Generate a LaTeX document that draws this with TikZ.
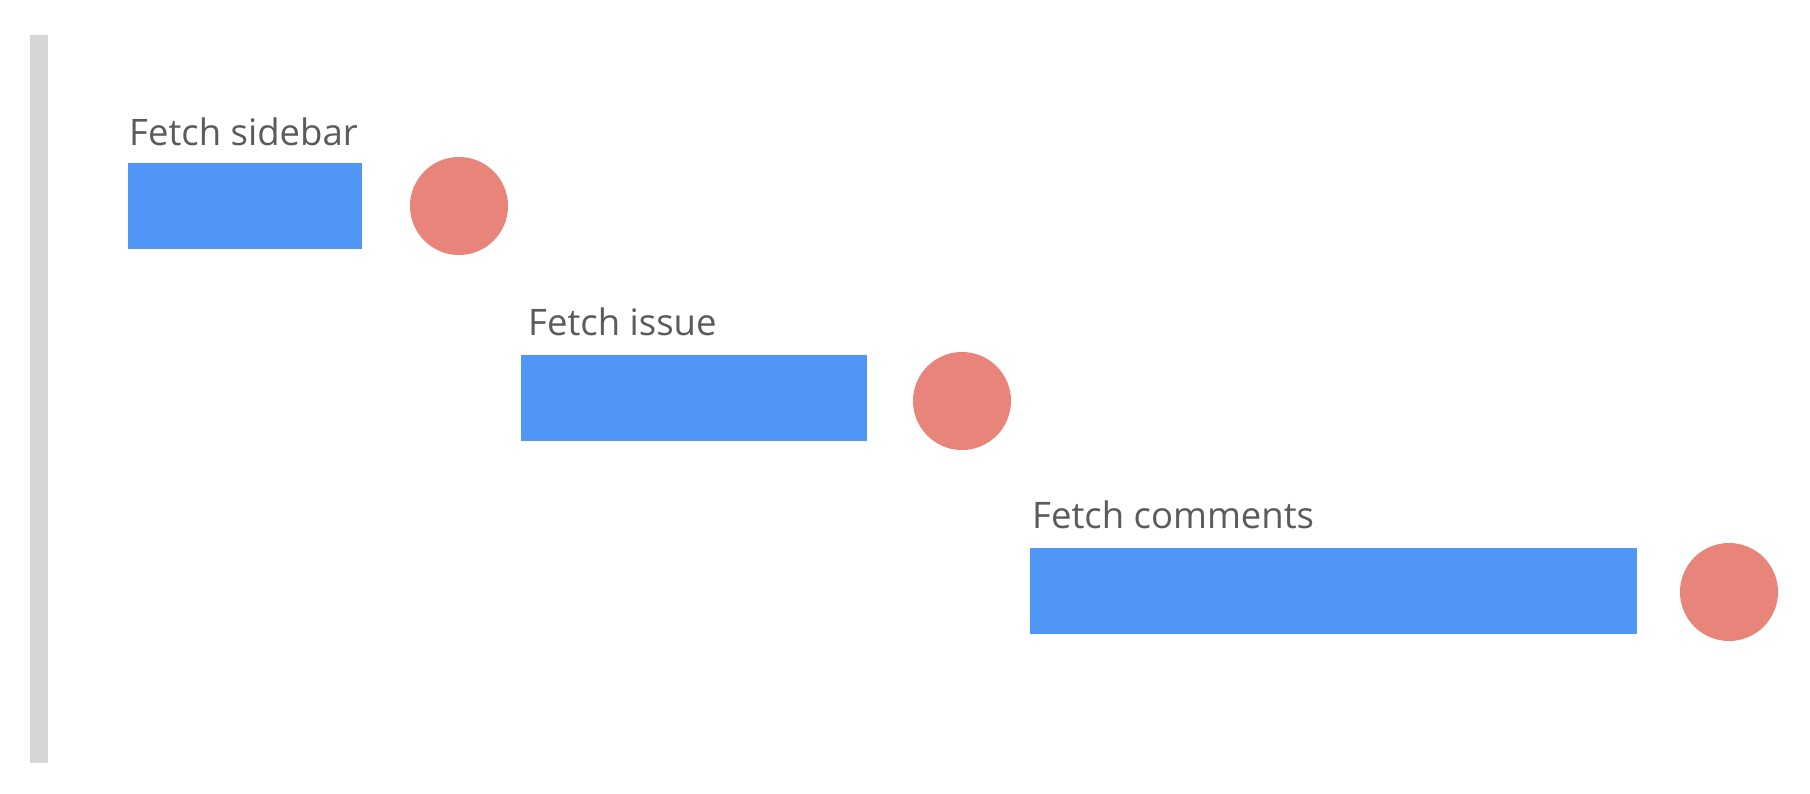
\documentclass[tikz,border=0pt]{standalone}
\usepackage{fontspec}
\setmainfont{Open Sans}
\definecolor{barblue}{RGB}{80,150,247}
\definecolor{dotred}{RGB}{233,132,123}
\definecolor{railgray}{RGB}{214,214,214}
\definecolor{labelgray}{RGB}{91,91,91}
\begin{document}
\begin{tikzpicture}[x=1pt,y=-1pt,
  taskbar/.style={fill=barblue, draw=none, inner sep=0pt, anchor=north west, minimum height=86pt},
  donedot/.style={circle, fill=dotred, draw=none, inner sep=0pt, minimum size=98pt},
  tasklabel/.style={anchor=base west, inner sep=0pt, text=labelgray, font=\fontsize{36.5}{42}\selectfont}
]
\useasboundingbox[fill=white] (0,0) rectangle (1810,794);
\fill[railgray] (30,35) rectangle (48,763);

\node[tasklabel] (l1) at (129,146) {Fetch sidebar};
\node[taskbar, minimum width=234pt] (b1) at (128,163) {};
\node[donedot] (c1) at (459,206) {};

\node[tasklabel] (l2) at (528,335) {Fetch issue};
\node[taskbar, minimum width=346pt] (b2) at (521,355) {};
\node[donedot] (c2) at (962,401) {};

\node[tasklabel] (l3) at (1032,528) {Fetch comments};
\node[taskbar, minimum width=607pt] (b3) at (1030,548) {};
\node[donedot] (c3) at (1729,592) {};
\end{tikzpicture}
\end{document}
